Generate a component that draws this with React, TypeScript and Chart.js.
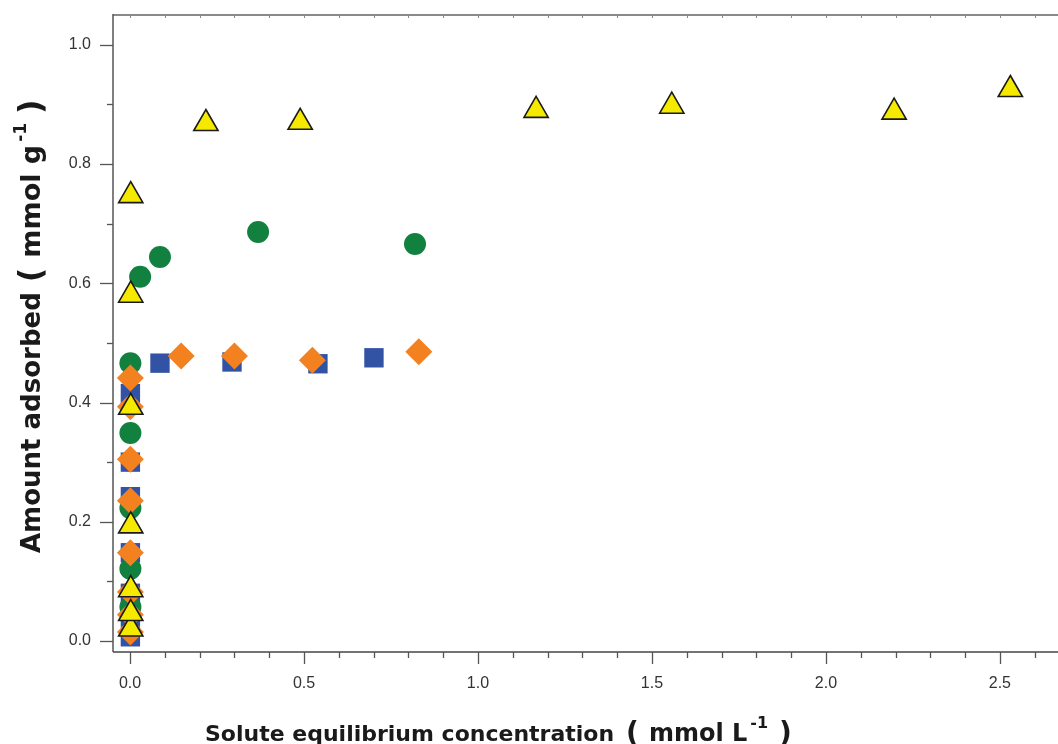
import React, { useEffect, useRef } from 'react';
import { Chart, registerables } from 'chart.js';

Chart.register(...registerables);

// ---- data ----
const squareX = [0.001, 0.001, 0.001, 0.001, 0.001, 0.001, 0.001, 0.086, 0.293, 0.540, 0.701];
const squareY = [0.007, 0.040, 0.080, 0.148, 0.242, 0.300, 0.415, 0.466, 0.468, 0.465, 0.475];

const circleX = [0.001, 0.001, 0.001, 0.001, 0.001, 0.029, 0.086, 0.368, 0.819];
const circleY = [0.057, 0.121, 0.223, 0.349, 0.466, 0.611, 0.644, 0.686, 0.666];

const diamondX = [0.001, 0.001, 0.001, 0.001, 0.001, 0.001, 0.001, 0.001, 0.147, 0.300, 0.524, 0.830];
const diamondY = [0.015, 0.044, 0.082, 0.148, 0.235, 0.305, 0.393, 0.441, 0.478, 0.478, 0.471, 0.485];

const triangleX = [0.002, 0.002, 0.002, 0.002, 0.002, 0.002, 0.002, 0.218, 0.489, 1.167, 1.557, 2.196, 2.530];
const triangleY = [0.020, 0.046, 0.086, 0.193, 0.392, 0.580, 0.747, 0.868, 0.870, 0.890, 0.897, 0.887, 0.925];

const xTickValues = [0, 0.1, 0.2, 0.3, 0.4, 0.5, 0.6, 0.7, 0.8, 0.9, 1.0, 1.1, 1.2, 1.3, 1.4, 1.5, 1.6, 1.7, 1.8, 1.9, 2.0, 2.1, 2.2, 2.3, 2.4, 2.5, 2.6];
const xMajorLabels = ['0.0', '0.5', '1.0', '1.5', '2.0', '2.5'];
const yTickValues = [0, 0.1, 0.2, 0.3, 0.4, 0.5, 0.6, 0.7, 0.8, 0.9, 1.0];
const yMajorLabels = ['0.0', '0.2', '0.4', '0.6', '0.8', '1.0'];

// axis titles, split into pieces so the unit exponent can be a real superscript
const xTitleMain = 'Solute equilibrium concentration';
const xTitleUnit = 'mmol L';
const yTitleMain = 'Amount adsorbed';
const yTitleUnit = 'mmol g';
const unitExponent = '-1';

const zip = (xs: number[], ys: number[]) => xs.map((x, i) => ({ x, y: ys[i] }));
const isXMajor = (v: number) => xMajorLabels.includes(v.toFixed(1));
const isYMajor = (v: number) => yMajorLabels.includes(v.toFixed(1));

type Seg = { text: string; size: number; dy?: number; gapBefore?: number };

function drawRich(ctx: CanvasRenderingContext2D, segs: Seg[], x0: number, y0: number) {
  let x = x0;
  segs.forEach((s) => {
    x += s.gapBefore || 0;
    ctx.font = `bold ${s.size}px "DejaVu Sans"`;
    ctx.fillText(s.text, x, y0 + (s.dy || 0));
    x += ctx.measureText(s.text).width;
  });
}

const axesPlugin = {
  id: 'customAxes',
  beforeDatasetsDraw(chart: any) {
    const { ctx, chartArea, scales } = chart;
    const { left, right, top, bottom } = chartArea;
    const line = (x1: number, y1: number, x2: number, y2: number) => {
      ctx.beginPath();
      ctx.moveTo(x1, y1);
      ctx.lineTo(x2, y2);
      ctx.stroke();
    };
    ctx.save();
    // top axis
    ctx.strokeStyle = '#8a8a8a';
    ctx.lineWidth = 2;
    line(left, top, right, top);
    ctx.lineWidth = 1;
    xTickValues.forEach((v) => {
      const px = Math.round(scales.x.getPixelForValue(v)) + 0.5;
      line(px, top, px, top + 3);
    });
    // left and bottom axes
    ctx.strokeStyle = '#555';
    ctx.lineWidth = 1.5;
    line(left, top - 1, left, bottom);
    ctx.strokeStyle = '#444';
    line(left, bottom, right, bottom);
    ctx.lineWidth = 1.3;
    ctx.strokeStyle = '#555';
    xTickValues.forEach((v) => {
      const px = Math.round(scales.x.getPixelForValue(v)) + 0.5;
      line(px, bottom, px, bottom + (isXMajor(v) ? 12 : 6));
    });
    yTickValues.forEach((v) => {
      const py = Math.round(scales.y.getPixelForValue(v)) + 0.5;
      line(left - (isYMajor(v) ? 13 : 6), py, left, py);
    });
    ctx.restore();
  },
  afterDraw(chart: any) {
    const { ctx } = chart;
    ctx.save();
    ctx.fillStyle = '#1a1a1a';
    ctx.textAlign = 'left';
    ctx.textBaseline = 'alphabetic';
    drawRich(
      ctx,
      [
        { text: xTitleMain, size: 22 },
        { text: '(', size: 28, gapBefore: 12, dy: 1 },
        { text: xTitleUnit, size: 24, gapBefore: 10 },
        { text: unitExponent, size: 16, dy: -13, gapBefore: 3 },
        { text: ')', size: 28, gapBefore: 11, dy: 1 },
      ],
      205,
      741
    );
    ctx.translate(40, 553);
    ctx.rotate(-Math.PI / 2);
    drawRich(
      ctx,
      [
        { text: yTitleMain, size: 26 },
        { text: '(', size: 32, gapBefore: 10, dy: 1 },
        { text: yTitleUnit, size: 27, gapBefore: 10 },
        { text: unitExponent, size: 17, dy: -14, gapBefore: 3 },
        { text: ')', size: 32, gapBefore: 9, dy: 1 },
      ],
      0,
      0
    );
    ctx.restore();
  },
};

export default function App() {
  const canvasRef = useRef<HTMLCanvasElement | null>(null);

  useEffect(() => {
    if (!canvasRef.current) return;
    const tickFont = { family: '"Liberation Sans", Arial, sans-serif', size: 16 };
    const chart = new Chart(canvasRef.current, {
      type: 'scatter',
      data: {
        datasets: [
          {
            label: 'Triangles',
            data: zip(triangleX, triangleY),
            pointStyle: 'triangle',
            pointRadius: 14,
            pointHoverRadius: 14,
            backgroundColor: '#f5e900',
            borderColor: '#1a1a1a',
            borderWidth: 1.6,
          },
          {
            label: 'Diamonds',
            data: zip(diamondX, diamondY),
            pointStyle: 'rectRot',
            pointRadius: 13.5,
            pointHoverRadius: 13.5,
            backgroundColor: '#f48120',
            borderColor: '#f48120',
            borderWidth: 0,
          },
          {
            label: 'Circles',
            data: zip(circleX, circleY),
            pointStyle: 'circle',
            pointRadius: 11,
            pointHoverRadius: 11,
            backgroundColor: '#12803f',
            borderColor: '#12803f',
            borderWidth: 0,
          },
          {
            label: 'Squares',
            data: zip(squareX, squareY),
            pointStyle: 'rect',
            pointRadius: 13.7,
            pointHoverRadius: 13.7,
            backgroundColor: '#3253a4',
            borderColor: '#3253a4',
            borderWidth: 0,
          },
        ],
      },
      options: {
        animation: false,
        responsive: false,
        devicePixelRatio: 1,
        layout: { autoPadding: false, padding: { top: 15, right: 0, left: 0, bottom: 0 } },
        plugins: { legend: { display: false }, tooltip: { enabled: false } },
        elements: { point: { hitRadius: 0 } },
        scales: {
          x: {
            type: 'linear',
            min: -0.049,
            max: 2.667,
            afterBuildTicks: (s: any) => {
              s.ticks = xTickValues.map((v) => ({ value: v }));
            },
            afterFit: (s: any) => {
              s.height = 92;
              s.paddingLeft = 0;
              s.paddingRight = 0;
              s.paddingTop = 0;
              s.paddingBottom = 0;
            },
            grid: { display: false, drawTicks: false },
            border: { display: false },
            ticks: {
              autoSkip: false,
              maxRotation: 0,
              padding: 22,
              color: '#333',
              font: tickFont,
              callback: (v: any) => (isXMajor(Number(v)) ? Number(v).toFixed(1) : ''),
            },
          },
          y: {
            type: 'linear',
            min: -0.0185,
            max: 1.05,
            afterBuildTicks: (s: any) => {
              s.ticks = yTickValues.map((v) => ({ value: v }));
            },
            afterFit: (s: any) => {
              s.width = 113;
              s.paddingLeft = 0;
              s.paddingRight = 0;
              s.paddingTop = 0;
              s.paddingBottom = 0;
            },
            grid: { display: false, drawTicks: false },
            border: { display: false },
            ticks: {
              autoSkip: false,
              padding: 22,
              color: '#333',
              font: tickFont,
              callback: (v: any) => (isYMajor(Number(v)) ? Number(v).toFixed(1) : ''),
            },
          },
        },
      },
      plugins: [axesPlugin],
    } as any);
    return () => chart.destroy();
  }, []);

  return (
    <div style={{ position: 'absolute', left: 0, top: 0, width: 1058, height: 744, background: '#fff' }}>
      <canvas ref={canvasRef} width={1058} height={744} />
    </div>
  );
}
